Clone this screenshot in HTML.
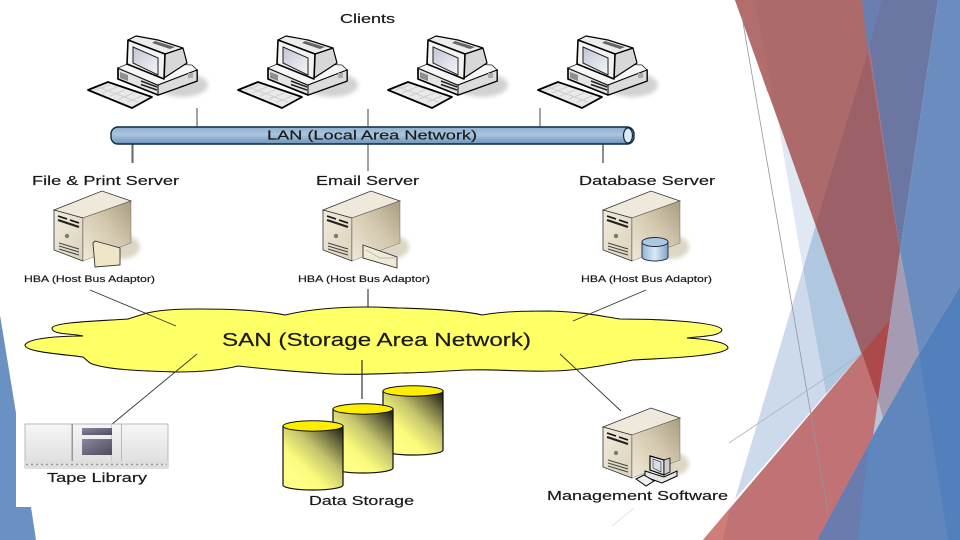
<!DOCTYPE html>
<html><head><meta charset="utf-8"><style>
html,body{margin:0;padding:0;background:#fff;width:960px;height:540px;overflow:hidden}
svg{display:block}
text{font-family:"Liberation Sans",sans-serif;fill:#1a1a1a;stroke:#1a1a1a;stroke-width:.18}
</style></head><body>
<svg width="960" height="540" viewBox="0 0 960 540" xmlns="http://www.w3.org/2000/svg">
<defs>
<linearGradient id="bar" x1="0" y1="0" x2="0" y2="1"><stop offset="0" stop-color="#8fb0cf"/><stop offset=".45" stop-color="#a9c5de"/><stop offset="1" stop-color="#6c94bb"/></linearGradient>
<linearGradient id="cyl" x1="1" y1="0" x2=".25" y2=".85"><stop offset="0" stop-color="#15150f"/><stop offset=".22" stop-color="#66663c"/><stop offset=".5" stop-color="#c4c46c"/><stop offset=".8" stop-color="#fafa7c"/><stop offset="1" stop-color="#ffff88"/></linearGradient>
<linearGradient id="front" x1="0" y1="0" x2="1" y2="1"><stop offset="0" stop-color="#f1ebdc"/><stop offset="1" stop-color="#dbd2bb"/></linearGradient>
<linearGradient id="side" x1="0" y1="1" x2="1" y2="0"><stop offset="0" stop-color="#f0e9d9"/><stop offset=".55" stop-color="#d3c8ae"/><stop offset="1" stop-color="#a99d80"/></linearGradient>
<linearGradient id="tape" x1="0" y1="0" x2="0" y2="1"><stop offset="0" stop-color="#f6f6f6"/><stop offset="1" stop-color="#dcdcdc"/></linearGradient>
<linearGradient id="slot" x1="0" y1="0" x2="1" y2="1"><stop offset="0" stop-color="#8a889c"/><stop offset="1" stop-color="#4d4a5e"/></linearGradient>
<linearGradient id="mon" x1="0" y1="0" x2="1" y2="1"><stop offset="0" stop-color="#c2c6d4"/><stop offset="1" stop-color="#f4f5fa"/></linearGradient>
<linearGradient id="db" x1="0" y1="0" x2="1" y2="0"><stop offset="0" stop-color="#8fb5d8"/><stop offset=".5" stop-color="#dbe9f5"/><stop offset="1" stop-color="#7ba4cc"/></linearGradient>
<filter id="sb" x="-30%" y="-30%" width="160%" height="160%"><feGaussianBlur stdDeviation="2"/></filter>
<filter id="soft" x="0" y="0" width="100%" height="100%" filterUnits="userSpaceOnUse"><feGaussianBlur stdDeviation=".35"/></filter>

<g id="pc">
<ellipse cx="182" cy="85" rx="26" ry="12" fill="#d2d2d2" filter="url(#sb)"/>
<polygon points="118,68 158,85 197,70 197,81 158,95 118,79" fill="#e4e4e4" stroke="#000" stroke-width="1.700" stroke-linejoin="round"/>
<polygon points="118,68 132,62 192,65 197,70 158,85" fill="#f6f6f6" stroke="#222" stroke-width=".8"/>
<polygon points="158,85 197,70 197,81 158,95" fill="#dcdcdc" stroke="#000" stroke-width="1"/>
<path d="M141,81 L157,87 M141,84.500 L157,90" stroke="#222" stroke-width="1.500"/>
<polygon points="120,72 128,75 128,81 120,78" fill="#8e8e8e"/>
<rect x="188" y="73" width="5" height="5" fill="#aaa"/>
<polygon points="165,54 183,48 187,63 164,78" fill="#d8d8d8" stroke="#000" stroke-width="1.200" stroke-linejoin="round"/>
<polygon points="128,40 136,36 158,40 183,48 165,54" fill="#ececec" stroke="#000" stroke-width="1.200" stroke-linejoin="round"/>
<polygon points="128,40 165,54 164,79 127,64" fill="#f3f3f3" stroke="#000" stroke-width="1.600" stroke-linejoin="round"/>
<polygon points="133,47 158,58 158,75 133,63" fill="url(#mon)" stroke="#222" stroke-width="1"/>
<polygon points="155,41 175,47 170,49 152,43" fill="#666"/>
<polygon points="88,90 108,82 152,97 132,108" fill="#e9e9e9" stroke="#000" stroke-width="1.800" stroke-linejoin="round"/>
<path d="M95,90 L110,85 M102,93 L117,87 M110,96 L125,90 M119,99 L134,93 M127,102 L142,96 M98,87 L138,102" stroke="#cfcfcf" stroke-width="1"/>
</g>

<g id="srv">
<ellipse cx="671" cy="247" rx="18" ry="12" fill="#dcd7c4" filter="url(#sb)"/>
<polygon points="603,210 651,191 680,201 632,218" fill="#efe9db" stroke="#333" stroke-width=".8"/>
<polygon points="603,210 632,218 632,261 603,250" fill="url(#front)" stroke="#333" stroke-width=".8"/>
<polygon points="632,218 680,201 680,243 632,261" fill="url(#side)" stroke="#555" stroke-width=".4"/>
<path d="M607,216 L616,219 M619,220 L628,223" stroke="#111" stroke-width="1.700"/>
<path d="M607,220 L628,227" stroke="#222" stroke-width="2.200"/>
<circle cx="616" cy="236" r="2.200" fill="#7d7d66"/>
<path d="M608,243 L628,249 M608,246 L628,252 M608,249 L628,255" stroke="#444" stroke-width="1"/>
</g>

<g id="cy"><path d="M0,5 V64 A30,5 0 0 0 60,64 V5 Z" fill="url(#cyl)" stroke="#111" stroke-width="1.200"/><ellipse cx="30" cy="5" rx="30" ry="5.200" fill="#ffee00" stroke="#111" stroke-width="1"/></g>
</defs>

<rect width="960" height="540" fill="#fff"/>

<!-- background shapes -->
<polygon points="0,315 16,413 16,507 31,507 36,540 0,540" fill="#6a90c4"/>
<polygon points="778,122 816,224 803,269" fill="#e0e9f3"/>
<polygon points="816,224 862,353 826,394 803,269" fill="#b0c7e0"/>
<polygon points="803,269 826,394 735,499" fill="#ccdaeb"/>
<polygon points="735,0 862,0 900,251 890,320 878,400" fill="#ad6a6b"/>
<polygon points="735,0 755,0 772,93 768,93" fill="#b26e6c"/>
<polygon points="868,52 900,251 890,320 862,353 816,224" fill="#9c6068"/>
<polygon points="862,353 890,320 878,400" fill="#ac4a4a"/>
<polygon points="862,0 938,0 900,251" fill="#6b76a3"/>
<polygon points="862,0 882,0 868,52" fill="#6a7eb0"/>
<polygon points="938,0 960,0 960,286 919,354 900,251" fill="#6a8cbf"/>
<polygon points="900,251 919,354 873,436 878,400 890,320" fill="#a59cb3"/>
<polygon points="878,400 883,418 873,436" fill="#bcc3d8"/>
<polygon points="960,286 960,540 817,540 873,436 919,354" fill="#5280bd"/>
<polygon points="873,436 919,354 948,540 858,540 868,447" fill="#5f86bd"/>
<polygon points="873,436 868,447 858,540 817,540" fill="#6a7cad"/>
<polygon points="703,540 862,353 878,400 873,436 817,540" fill="#c07274"/>
<polygon points="703,540 730,508 723,540" fill="#d07c78"/>
<line x1="742" y1="17" x2="828" y2="513" stroke="#8f98a3" stroke-width=".8"/>
<line x1="729" y1="443" x2="860" y2="355" stroke="#a9b4c0" stroke-width=".8"/>
<line x1="612" y1="526" x2="634" y2="508" stroke="#ddd" stroke-width=".8"/>

<g filter="url(#soft)">
<!-- clients -->
<use href="#pc"/><use href="#pc" x="150"/><use href="#pc" x="300"/><use href="#pc" x="450"/>

<!-- connectors -->
<g stroke="#666" stroke-width="1.200" fill="none">
<line x1="197" y1="108" x2="197" y2="127"/>
<line x1="368" y1="109" x2="368" y2="127"/>
<line x1="540" y1="108" x2="540" y2="127"/>
<line x1="368" y1="144" x2="368" y2="171"/>
<line x1="132.500" y1="144" x2="132.500" y2="163" stroke-width="2"/>
<line x1="603" y1="144" x2="603" y2="163" stroke-width="1.500"/>
<line x1="368" y1="289" x2="368" y2="314" stroke-width="1.500"/>
</g>

<!-- LAN -->
<rect x="111" y="127" width="523" height="17" rx="7" fill="url(#bar)" stroke="#0c2a40" stroke-width="1.400"/>
<ellipse cx="628" cy="135.500" rx="4.500" ry="7.500" fill="#dfe9f2" stroke="#0c2a40" stroke-width="1.200"/>

<!-- servers -->
<use href="#srv" x="-549"/><use href="#srv" x="-280"/><use href="#srv"/><use href="#srv" y="217"/>

<!-- server badges -->
<polygon points="93,243 95,241 106,244 120,248 120,265 95,267" fill="#efe6c8" stroke="#333" stroke-width=".9"/>
<polygon points="363,245 397,257 397,268 363,258" fill="#efe9d6" stroke="#333" stroke-width=".9"/>
<path d="M366,250 L380,258 L395,258" stroke="#aaa" stroke-width=".7" fill="none"/>
<path d="M642,242 V257 A13,4 0 0 0 668,257 V242 Z" fill="url(#db)" stroke="#223" stroke-width=".9"/>
<ellipse cx="655" cy="242" rx="13" ry="4.500" fill="#a9c8e4" stroke="#223" stroke-width=".9"/>
<polygon points="645,471 664,477 677,471 677,476 662,483 645,477" fill="#e6e6e6" stroke="#000" stroke-width="1"/>
<polygon points="650,456 664,460 664,475 650,470" fill="#e8e8e8" stroke="#000" stroke-width="1.200"/>
<polygon points="653,459 661,462 661,472 653,468" fill="#d5dcea" stroke="#222" stroke-width=".6"/>
<polygon points="664,460 670,458 670,472 664,475" fill="#ccc" stroke="#000" stroke-width=".8"/>
<polygon points="636,479 644,475 654,481 646,486" fill="#eee" stroke="#000" stroke-width="1"/>

<!-- cloud -->
<path d="M83,336 C70,333 52,335 52,328 C54,322 100,321 128,319 L147,313 C165,309 185,309 200,309 C235,309 265,311 285,315 C310,309 340,307 367,307 C385,307 392,308 400,308 C435,309 465,311 482,315 C505,311 530,311 550,311 C585,312 600,316 620,319 C660,319 720,322 722,330 C720,336 705,336 687,338 C705,339 728,342 728,348 C724,356 670,358 633,360 C600,366 575,371 550,371 C520,372 495,369 467,370 C440,371 425,373 400,373 C375,374 355,375 333,374 C300,372 265,369 238,366 C218,371 195,372 177,372 C145,371 105,370 90,363 L83,357 C60,354 25,352 25,345 C28,338 60,336 83,336 Z" fill="#ffff66" stroke="#111" stroke-width="1.100"/>

<g stroke="#333" stroke-width=".9" fill="none">
<line x1="90" y1="290" x2="176" y2="326"/>
<line x1="646" y1="290" x2="573" y2="321"/>
<line x1="197" y1="354" x2="111" y2="425"/>
<line x1="362" y1="360" x2="362" y2="399" stroke-width="1.200"/>
<line x1="560" y1="354" x2="621" y2="411"/>
</g>

<!-- tape library -->
<rect x="25" y="424" width="143" height="44" fill="url(#tape)" stroke="#aaa" stroke-width=".8"/>
<rect x="71.500" y="424" width="1.500" height="37" fill="#999"/>
<rect x="121" y="424" width="1" height="37" fill="#bbb"/>
<rect x="111" y="424" width="1" height="37" fill="#ccc"/>
<rect x="82" y="428" width="30" height="7" fill="url(#slot)"/>
<rect x="82" y="439" width="30" height="16" fill="url(#slot)"/>
<rect x="25" y="461" width="143" height="7" fill="#dedede"/>
<path d="M26,464.500 H167" stroke="#999" stroke-width="1.500" stroke-dasharray="2 3"/>

<!-- data storage -->
<use href="#cy" x="383" y="386"/>
<use href="#cy" x="333" y="404"/>
<use href="#cy" x="283" y="421"/>

<!-- labels -->
<text x="340" y="23" font-size="12.500" textLength="55" lengthAdjust="spacingAndGlyphs">Clients</text>
<text x="267" y="139.500" font-size="13" textLength="210" lengthAdjust="spacingAndGlyphs">LAN (Local Area Network)</text>
<text x="32" y="185" font-size="12.500" textLength="147" lengthAdjust="spacingAndGlyphs">File &amp; Print Server</text>
<text x="316" y="185" font-size="12.500" textLength="103" lengthAdjust="spacingAndGlyphs">Email Server</text>
<text x="579" y="185" font-size="12.500" textLength="136" lengthAdjust="spacingAndGlyphs">Database Server</text>
<text x="24" y="282" font-size="9.500" textLength="131" lengthAdjust="spacingAndGlyphs">HBA (Host Bus Adaptor)</text>
<text x="298" y="282" font-size="9.500" textLength="132" lengthAdjust="spacingAndGlyphs">HBA (Host Bus Adaptor)</text>
<text x="581" y="282" font-size="9.500" textLength="131" lengthAdjust="spacingAndGlyphs">HBA (Host Bus Adaptor)</text>
<text x="222" y="346" font-size="18" textLength="309" lengthAdjust="spacingAndGlyphs">SAN (Storage Area Network)</text>
<text x="47" y="482" font-size="13" textLength="100" lengthAdjust="spacingAndGlyphs">Tape Library</text>
<text x="309" y="505" font-size="13" textLength="105" lengthAdjust="spacingAndGlyphs">Data Storage</text>
<text x="547" y="500" font-size="13" textLength="181" lengthAdjust="spacingAndGlyphs">Management Software</text>
</g>
</svg>
</body></html>
